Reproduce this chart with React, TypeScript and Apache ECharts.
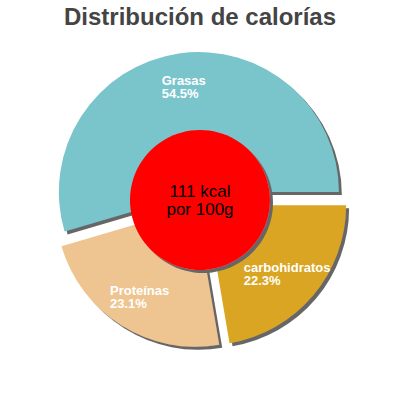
import { useRef, useEffect } from 'react'
import * as echarts from 'echarts'

const categories = ['Grasas', 'Proteínas', 'carbohidratos'];
const percents = [54.5, 23.1, 22.3];
const colors = ['#7ac4cc', '#eec591', '#daa520'];
const centerText = '111 kcal\npor 100g';
const titleText = 'Distribución de calorías';

function App() {
  const chartRef = useRef<HTMLDivElement>(null);

  useEffect(() => {
    document.body.style.margin = '0';
    if (chartRef.current) {
      const myChart = echarts.init(chartRef.current, null, { renderer: 'svg' });

      const slices = categories.map((name, i) => ({
        name,
        value: percents[i],
        selected: true,
        itemStyle: { color: colors[i] },
      }));

      const shadow = {
        shadowColor: '#666666',
        shadowBlur: 0,
        shadowOffsetX: 3,
        shadowOffsetY: 3,
      };

      const option = {
        animation: false,
        title: {
          text: titleText,
          left: 'center',
          top: 4,
          padding: 0,
          textStyle: {
            fontFamily: 'Liberation Sans',
            fontSize: 24,
            fontWeight: 'bold',
            color: '#444444',
          },
        },
        series: [
          {
            type: 'pie',
            silent: true,
            z: 2,
            center: ['50%', '50%'],
            radius: [0, 140],
            clockwise: false,
            startAngle: 0,
            selectedMode: 'multiple',
            selectedOffset: 8,
            label: { show: false },
            labelLine: { show: false },
            itemStyle: { borderWidth: 0, ...shadow },
            data: slices,
          },
          {
            type: 'pie',
            silent: true,
            z: 5,
            center: ['50%', '50%'],
            radius: [0, 70],
            label: {
              show: true,
              position: 'center',
              formatter: centerText,
              fontFamily: 'Liberation Sans',
              fontSize: 17,
              lineHeight: 18,
              color: '#000000',
            },
            labelLine: { show: false },
            itemStyle: { color: '#ff0000', borderWidth: 0, ...shadow },
            data: [{ name: centerText, value: 1 }],
          },
          {
            type: 'pie',
            silent: true,
            z: 6,
            center: ['50%', '50%'],
            radius: [66, 140],
            clockwise: false,
            startAngle: 0,
            selectedMode: 'multiple',
            selectedOffset: 8,
            itemStyle: { color: 'transparent', borderWidth: 0 },
            labelLine: { show: false },
            label: {
              show: true,
              position: 'inside',
              formatter: (p: any) => `{t|${p.name}}\n{t|${p.value}%}`,
              rich: {
                t: {
                  align: 'left',
                  fontFamily: 'Liberation Sans',
                  fontSize: 13,
                  fontWeight: 'bold',
                  lineHeight: 13,
                  color: '#ffffff',
                },
              },
            },
            data: slices.map((s) => ({ name: s.name, value: s.value, selected: true })),
          },
        ],
      };
      myChart.setOption(option);

      return () => {
        myChart.dispose();
      };
    }
  }, []);

  return (
    <div ref={chartRef} style={{ width: '400px', height: '400px' }}></div>
  )
}

export default App
